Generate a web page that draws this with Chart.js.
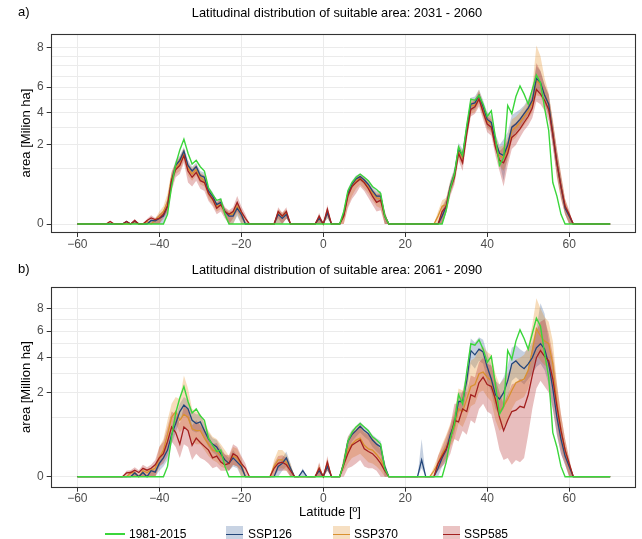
<!DOCTYPE html>
<html><head><meta charset="utf-8">
<script src="https://cdn.jsdelivr.net/npm/chart.js@4.4.1/dist/chart.umd.min.js"></script>
<style>
body{margin:0;background:#fff;width:642px;height:539px;overflow:hidden;position:relative;font-family:"Liberation Sans",Arial,Helvetica,sans-serif;}
canvas{position:absolute;left:0;}
.t{position:absolute;white-space:nowrap;color:#000;line-height:1;}
.c{transform:translate(-50%,-50%);}
.r{transform:translate(-50%,-50%) rotate(-90deg);}
.key{position:absolute;width:17px;height:17px;}
.key i{position:absolute;left:0;right:0;top:8px;height:1.4px;display:block;}
</style></head><body>
<canvas id="ca" width="642" height="258" style="top:0"></canvas>
<canvas id="cb" width="642" height="262" style="top:258px"></canvas>

<div class="t" style="left:18px;top:5px;font-size:13px">a)</div>
<div class="t c" style="left:337px;top:13px;font-size:12.8px">Latitudinal distribution of suitable area: 2031 - 2060</div>
<div class="t r" style="left:25px;top:133px;font-size:13px">area [Milion ha]</div>

<div class="t" style="left:18px;top:262px;font-size:13px">b)</div>
<div class="t c" style="left:337px;top:270px;font-size:12.8px">Latitudinal distribution of suitable area: 2061 - 2090</div>
<div class="t r" style="left:25px;top:387px;font-size:13px">area [Million ha]</div>

<div class="t c" style="left:330px;top:511px;font-size:13px">Latitude [º]</div>

<div style="position:absolute;left:105px;top:533px;width:20px;height:1.5px;background:#3bd63b"></div>
<div class="t" style="left:129px;top:528px;font-size:12px">1981-2015</div>
<div class="key" style="left:226px;top:526px;background:#c8d3e3"><i style="background:#23467a"></i></div>
<div class="t" style="left:248px;top:528px;font-size:12px">SSP126</div>
<div class="key" style="left:333px;top:526px;background:#f6dfc2"><i style="background:#d9912f"></i></div>
<div class="t" style="left:354px;top:528px;font-size:12px">SSP370</div>
<div class="key" style="left:443px;top:526px;background:#eac3c3"><i style="background:#a3201f"></i></div>
<div class="t" style="left:464px;top:528px;font-size:12px">SSP585</div>

<script>
// Latitude grid (degrees)
const lat = [
-60,-59,-58,-57,-56,-55,-54,-53,-52,-51,
-50,-49,-48,-47,-46,-45,-44,-43,-42,-41,
-40,-39,-38,-37,-36,-35,-34,-33,-32,-31,
-30,-29,-28,-27,-26,-25,-24,-23,-22,-21,
-20,-19,-18,-17,-16,-15,-14,-13,-12,-11,
-10,-9,-8,-7,-6,-5,-4,-3,-2,-1,
0,1,2,3,4,5,6,7,8,9,
10,11,12,13,14,15,16,17,18,19,
20,21,22,23,24,25,26,27,28,29,
30,31,32,33,34,35,36,37,38,39,
40,41,42,43,44,45,46,47,48,49,
50,51,52,53,54,55,56,57,58,59,
60,61,62,63,64,65,66,67,68,69,70];

// 1981-2015 (same in both panels), area [Million ha]
const hist = [
0,0,0,0,0,0,0,0,0,0,
0,0,0,0,0,0,0,0,0,0,
0,0,0.03,0.45,1.15,1.75,2.3,1.6,1.15,1.3,
1.05,0.9,0.42,0.28,0.18,0.2,0.03,0,0,0,
0,0,0,0,0,0,0,0,0,0,
0,0,0,0,0,0,0,0,0,0,
0,0,0,0,0,0.05,0.35,0.55,0.7,0.8,
0.7,0.6,0.45,0.38,0.3,0.02,0,0,0,0,
0,0,0,0,0,0,0,0,0,0,
0.06,0.4,0.8,1.9,1.5,3.1,5.0,4.9,5.3,4.6,
3.7,4.1,2.4,1.1,1.4,4.5,3.9,5.2,6.1,5.4,
4.6,5.8,7.1,6.4,4.3,2.8,0.55,0.25,0.03,0,
0,0,0,0,0,0,0,0,0,0,0];

// ---------- Panel a: 2031-2060 ----------
const a126 = [
0,0,0,0,0,0,0,0,0,0,
0,0,0.002,0,0.003,0,0,0,0.004,0.003,
0.01,0.02,0.1,0.6,1.1,1.3,1.7,1.1,0.9,1.05,
0.75,0.7,0.35,0.25,0.12,0.15,0.05,0.02,0.02,0.08,
0.03,0,0,0,0,0,0,0,0,0.03,
0.01,0.03,0,0,0,0,0,0,0,0.01,
0,0.04,0,0,0,0.03,0.3,0.5,0.65,0.72,
0.62,0.5,0.35,0.25,0.25,0.02,0,0,0,0,
0,0,0,0,0,0,0,0,0,0.02,
0.1,0.45,0.8,1.8,1.5,2.9,4.6,4.7,5.3,4.4,
3.5,3.3,2.2,1.6,1.5,2.0,3.0,3.2,3.5,3.9,
4.3,4.9,6.8,6.4,5.3,4.6,2.6,1.2,0.45,0.08,
0.02,0,0,0,0,0,0,0,0,0,0];
const a126lo = [
0,0,0,0,0,0,0,0,0,0,
0,0,0,0,0,0,0,0,0,0,
0,0,0.04,0.4,0.9,1.1,1.5,0.9,0.75,0.9,
0.6,0.55,0.25,0.17,0.07,0.1,0.02,0,0,0.02,
0,0,0,0,0,0,0,0,0,0,
0,0.01,0,0,0,0,0,0,0,0,
0,0.01,0,0,0,0.01,0.2,0.4,0.55,0.6,
0.5,0.4,0.25,0.15,0.15,0,0,0,0,0,
0,0,0,0,0,0,0,0,0,0,
0.04,0.3,0.6,1.5,1.2,2.5,4.1,4.2,4.8,3.9,
3.0,2.8,1.8,1.2,0.6,1.5,2.4,2.7,3.0,3.4,
3.8,4.3,5.6,5.5,4.6,3.8,2.0,0.8,0.25,0.03,
0,0,0,0,0,0,0,0,0,0,0];
const a126hi = [
0,0,0,0,0,0,0,0,0,0,
0,0,0.004,0,0.006,0,0,0,0.008,0.006,
0.03,0.05,0.2,0.8,1.3,1.5,1.9,1.3,1.05,1.2,
0.9,0.85,0.45,0.33,0.18,0.22,0.08,0.04,0.05,0.13,
0.06,0,0,0,0,0,0,0,0,0.06,
0.03,0.06,0,0,0,0,0,0,0,0.03,
0,0.07,0,0,0,0.06,0.4,0.6,0.75,0.82,
0.72,0.6,0.45,0.35,0.35,0.05,0,0,0,0,
0,0,0,0,0,0,0,0,0,0.05,
0.2,0.6,1.0,2.1,1.8,3.3,5.1,5.2,5.8,4.9,
4.0,3.8,2.6,2.0,2.3,2.7,3.8,4.0,4.2,4.5,
5.0,5.8,8.0,7.5,6.2,5.4,3.3,1.7,0.7,0.15,
0.04,0,0,0,0,0,0,0,0,0,0];

const a370 = [
0,0,0,0,0,0,0,0,0,0,
0,0,0,0,0.002,0,0,0.002,0,0.005,
0.02,0.05,0.15,0.7,1.0,1.2,1.6,1.0,0.8,0.95,
0.7,0.6,0.3,0.2,0.1,0.12,0.05,0.03,0.03,0.1,
0.04,0,0,0,0,0,0,0,0,0.04,
0.02,0.04,0,0,0,0,0,0,0,0.01,
0,0.05,0,0,0,0.02,0.28,0.45,0.6,0.68,
0.55,0.45,0.3,0.22,0.2,0.02,0,0,0,0,
0,0,0,0,0,0,0,0,0.02,0.1,
0.12,0.45,0.75,1.7,1.4,2.8,4.5,4.5,5.2,4.2,
3.4,3.2,2.1,1.5,1.4,1.8,2.8,3.0,3.3,3.7,
4.1,4.7,6.6,6.2,5.4,4.6,2.7,1.2,0.45,0.1,
0.02,0,0,0,0,0,0,0,0,0,0];
const a370lo = [
0,0,0,0,0,0,0,0,0,0,
0,0,0,0,0,0,0,0,0,0,
0,0.02,0.05,0.45,0.8,0.9,1.3,0.75,0.6,0.75,
0.5,0.45,0.2,0.12,0.05,0.07,0.02,0,0,0.03,
0,0,0,0,0,0,0,0,0,0,
0,0.01,0,0,0,0,0,0,0,0,
0,0.01,0,0,0,0,0.1,0.25,0.4,0.5,
0.4,0.3,0.18,0.1,0.08,0,0,0,0,0,
0,0,0,0,0,0,0,0,0,0,
0.05,0.3,0.55,1.4,1.1,2.4,3.9,4.0,4.6,3.7,
2.9,2.7,1.7,1.1,0.9,1.3,2.2,2.4,2.8,3.1,
3.5,4.0,5.3,5.2,4.6,3.8,2.0,0.7,0.2,0.03,
0,0,0,0,0,0,0,0,0,0,0];
const a370hi = [
0,0,0,0,0,0,0,0,0,0,
0,0,0,0,0.004,0,0,0.004,0,0.01,
0.05,0.1,0.3,0.9,1.2,1.45,1.85,1.2,1.0,1.15,
0.85,0.75,0.4,0.3,0.16,0.18,0.08,0.05,0.06,0.15,
0.07,0,0,0,0,0,0,0,0,0.07,
0.04,0.07,0,0,0,0,0,0,0,0.03,
0,0.09,0,0,0,0.06,0.38,0.55,0.7,0.78,
0.68,0.56,0.4,0.32,0.3,0.05,0,0,0,0,
0,0,0,0,0,0,0,0,0.05,0.18,
0.22,0.6,0.95,2.0,1.7,3.2,5.0,5.0,5.8,4.7,
3.9,3.7,2.5,1.9,2.0,2.4,3.5,3.7,4.0,4.4,
4.9,6.0,10.2,9.0,6.8,5.5,3.5,1.8,0.8,0.2,
0.05,0,0,0,0,0,0,0,0,0,0];

const a585 = [
0,0,0,0,0,0,0,0,0.002,0,
0,0,0.002,0,0.004,0,0,0.004,0.012,0.006,
0.01,0.03,0.1,0.6,0.95,1.1,1.5,0.9,0.7,0.85,
0.6,0.55,0.3,0.2,0.08,0.12,0.05,0.03,0.05,0.15,
0.05,0.01,0,0,0,0,0,0,0,0.05,
0.02,0.05,0,0,0,0,0,0,0,0.02,
0,0.07,0,0,0,0.02,0.25,0.45,0.55,0.65,
0.55,0.4,0.25,0.15,0.18,0.02,0,0,0,0,
0,0,0,0,0,0,0,0,0,0.05,
0.1,0.4,0.7,1.6,1.2,2.6,4.2,4.4,5.0,4.0,
3.2,3.0,1.9,1.3,1.2,1.6,2.4,2.6,2.9,3.3,
3.7,4.3,5.8,5.4,4.9,4.2,2.6,1.2,0.45,0.1,
0.03,0,0,0,0,0,0,0,0,0,0];
const a585lo = [
0,0,0,0,0,0,0,0,0,0,
0,0,0,0,0,0,0,0,0,0,
0,0.01,0.04,0.35,0.7,0.8,1.2,0.55,0.45,0.6,
0.4,0.35,0.17,0.1,0.03,0.05,0.01,0,0.01,0.05,
0.01,0,0,0,0,0,0,0,0,0.01,
0,0.01,0,0,0,0,0,0,0,0,
0,0.02,0,0,0,0,0.08,0.2,0.3,0.45,
0.35,0.22,0.12,0.05,0.06,0,0,0,0,0,
0,0,0,0,0,0,0,0,0,0,
0.04,0.25,0.5,1.3,0.9,2.2,3.7,3.9,4.4,3.5,
2.7,2.5,1.5,0.9,0.45,1.1,1.8,2.0,2.4,2.8,
3.1,3.6,4.8,4.6,4.1,3.4,1.9,0.7,0.2,0.03,
0,0,0,0,0,0,0,0,0,0,0];
const a585hi = [
0,0,0,0,0,0,0,0,0.004,0,
0,0,0.004,0,0.008,0,0,0.008,0.025,0.012,
0.03,0.06,0.2,0.85,1.2,1.4,1.8,1.15,0.95,1.1,
0.8,0.75,0.42,0.3,0.14,0.2,0.09,0.06,0.09,0.25,
0.1,0.03,0,0,0,0,0,0,0,0.09,
0.04,0.09,0,0,0,0,0,0,0,0.04,
0,0.12,0,0,0,0.05,0.35,0.55,0.68,0.76,
0.66,0.52,0.38,0.28,0.3,0.05,0,0,0,0,
0,0,0,0,0,0,0,0,0,0.1,
0.2,0.55,0.9,1.9,1.5,3.0,4.7,4.9,5.6,4.6,
3.7,3.5,2.3,1.7,1.9,2.2,3.1,3.3,3.6,4.0,
4.5,5.3,8.3,7.5,6.2,5.3,3.4,1.8,0.8,0.2,
0.06,0,0,0,0,0,0,0,0,0,0];

// ---------- Panel b: 2061-2090 ----------
const b126 = [
0,0,0,0,0,0,0,0,0,0,
0,0,0,0,0.004,0,0.005,0,0.01,0.006,
0.05,0.1,0.2,0.5,0.8,1.2,1.45,1.3,0.9,0.8,
0.85,0.6,0.4,0.3,0.25,0.15,0.08,0.05,0.1,0.06,
0.03,0,0,0,0,0,0,0,0,0.03,
0.05,0.1,0.02,0,0,0.01,0,0,0,0.01,
0,0.03,0,0,0,0.05,0.35,0.5,0.6,0.72,
0.6,0.52,0.38,0.3,0.25,0.03,0,0,0,0,
0,0,0,0,0.08,0,0,0,0.02,0.1,
0.2,0.5,0.8,1.6,1.6,2.6,4.5,4.2,4.6,4.4,
3.4,2.7,1.9,1.7,2.0,2.6,3.6,3.8,3.5,3.3,
3.6,4.0,4.7,5.0,4.6,3.6,2.2,1.0,0.4,0.12,
0.03,0,0,0,0,0,0,0,0,0,0];
const b126lo = [
0,0,0,0,0,0,0,0,0,0,
0,0,0,0,0,0,0,0,0,0,
0.01,0.03,0.08,0.3,0.55,0.9,1.1,0.95,0.6,0.55,
0.6,0.4,0.25,0.17,0.13,0.07,0.03,0.01,0.03,0.02,
0,0,0,0,0,0,0,0,0,0,
0.01,0.03,0,0,0,0,0,0,0,0,
0,0.01,0,0,0,0.02,0.2,0.35,0.45,0.55,
0.45,0.38,0.25,0.18,0.13,0,0,0,0,0,
0,0,0,0,0.02,0,0,0,0,0.03,
0.08,0.3,0.55,1.2,1.2,2.0,3.6,3.3,3.8,3.6,
2.6,2.0,1.3,1.1,1.3,1.8,2.6,2.8,2.6,2.4,
2.7,3.0,3.4,3.6,3.2,2.4,1.3,0.5,0.15,0.04,
0,0,0,0,0,0,0,0,0,0,0];
const b126hi = [
0,0,0,0,0,0,0,0,0,0,
0,0,0,0,0.01,0,0.01,0,0.02,0.012,
0.1,0.2,0.35,0.7,1.05,1.5,1.8,1.65,1.2,1.1,
1.1,0.8,0.55,0.42,0.38,0.25,0.14,0.1,0.2,0.12,
0.06,0,0,0,0,0,0,0,0,0.06,
0.1,0.18,0.05,0,0,0.02,0,0,0,0.02,
0,0.06,0,0,0,0.09,0.45,0.62,0.72,0.85,
0.72,0.64,0.5,0.42,0.36,0.06,0,0,0,0,
0,0,0,0,0.4,0,0,0,0.05,0.18,
0.32,0.7,1.1,2.0,2.0,3.2,5.4,5.1,5.5,5.3,
4.3,3.5,2.6,2.4,2.8,3.5,4.7,4.9,4.6,4.4,
4.6,5.1,6.2,8.5,7.5,5.2,3.3,1.7,0.75,0.25,
0.06,0,0,0,0,0,0,0,0,0,0];

const b370 = [
0,0,0,0,0,0,0,0,0,0,
0,0,0,0.004,0.005,0,0.01,0.005,0.012,0.02,
0.1,0.2,0.5,1.0,1.2,0.9,1.1,1.0,0.65,0.6,
0.6,0.42,0.3,0.2,0.18,0.12,0.08,0.05,0.12,0.1,
0.04,0,0,0,0,0,0,0,0.03,0.08,
0.08,0.06,0.02,0,0,0,0,0,0,0.02,
0,0.05,0,0,0,0.05,0.2,0.3,0.38,0.42,
0.28,0.22,0.2,0.14,0.08,0.02,0,0,0,0,
0,0,0,0,0,0,0,0.01,0.05,0.15,
0.25,0.45,0.7,1.3,1.2,1.7,2.3,2.4,3.0,3.1,
2.8,2.6,1.6,1.2,1.4,1.7,2.1,2.5,2.6,2.7,
3.2,4.5,6.2,5.6,5.2,5.0,3.6,1.5,0.6,0.2,
0.04,0,0,0,0,0,0,0,0,0,0];
const b370lo = [
0,0,0,0,0,0,0,0,0,0,
0,0,0,0,0,0,0,0,0,0,
0.03,0.08,0.25,0.6,0.8,0.55,0.7,0.6,0.35,0.3,
0.3,0.2,0.12,0.08,0.06,0.03,0.02,0.01,0.04,0.03,
0,0,0,0,0,0,0,0,0,0.02,
0.02,0.01,0,0,0,0,0,0,0,0,
0,0.01,0,0,0,0.01,0.05,0.1,0.12,0.15,
0.1,0.06,0.05,0.03,0.01,0,0,0,0,0,
0,0,0,0,0,0,0,0,0.01,0.05,
0.1,0.25,0.4,0.8,0.7,1.0,1.4,1.5,2.0,2.1,
1.8,1.6,0.9,0.6,0.7,0.9,1.3,1.6,1.7,1.8,
2.2,3.2,4.2,3.8,3.5,3.4,2.2,0.8,0.25,0.06,
0,0,0,0,0,0,0,0,0,0,0];
const b370hi = [
0,0,0,0,0,0,0,0,0,0,
0,0,0,0.01,0.01,0,0.02,0.01,0.025,0.04,
0.25,0.4,0.9,1.5,1.8,1.7,2.9,2.2,1.3,1.2,
1.1,0.85,0.6,0.45,0.4,0.3,0.2,0.12,0.25,0.22,
0.1,0,0,0,0,0,0,0,0.08,0.2,
0.2,0.14,0.05,0,0,0,0,0,0,0.05,
0,0.1,0,0,0,0.12,0.45,0.6,0.72,0.8,
0.62,0.52,0.45,0.36,0.25,0.06,0,0,0,0,
0,0,0,0,0,0,0,0.03,0.12,0.3,
0.5,0.8,1.2,2.2,2.1,2.9,3.8,4.0,4.6,4.8,
4.4,4.2,3.0,2.4,2.7,3.0,3.5,3.9,4.0,4.2,
4.8,6.5,9.0,8.0,7.2,6.8,5.2,2.5,1.1,0.4,
0.08,0,0,0,0,0,0,0,0,0,0];

const b585 = [
0,0,0,0,0,0,0,0,0,0,
0,0,0.004,0.005,0.012,0.005,0.02,0.012,0.02,0.04,
0.1,0.15,0.35,0.7,0.55,0.3,0.7,0.6,0.28,0.42,
0.33,0.26,0.2,0.1,0.12,0.06,0.04,0.05,0.15,0.12,
0.05,0.02,0,0,0,0,0,0,0.02,0.05,
0.06,0.04,0.01,0,0,0,0,0,0,0.02,
0,0.06,0,0,0,0.04,0.15,0.28,0.33,0.38,
0.22,0.18,0.15,0.1,0.05,0.01,0,0,0,0,
0,0,0,0,0,0,0,0,0.05,0.12,
0.22,0.4,0.9,0.85,1.3,1.2,1.9,1.8,2.5,2.8,
2.4,2.3,1.7,1.0,0.6,0.9,1.2,1.25,1.4,1.35,
1.9,2.9,4.0,4.5,4.1,3.8,2.7,1.4,0.6,0.2,
0.05,0,0,0,0,0,0,0,0,0,0];
const b585lo = [
0,0,0,0,0,0,0,0,0,0,
0,0,0,0,0,0,0,0,0,0,
0.03,0.05,0.12,0.35,0.25,0.1,0.3,0.25,0.08,0.15,
0.1,0.08,0.05,0.02,0.03,0.01,0.01,0.01,0.04,0.03,
0.01,0,0,0,0,0,0,0,0,0.01,
0.01,0.01,0,0,0,0,0,0,0,0,
0,0.01,0,0,0,0,0.02,0.03,0.05,0.08,
0.03,0.02,0.02,0.01,0,0,0,0,0,0,
0,0,0,0,0,0,0,0,0.01,0.03,
0.06,0.15,0.4,0.35,0.6,0.5,0.9,0.8,1.3,1.5,
1.2,1.1,0.6,0.2,0.08,0.1,0.04,0.08,0.06,0.1,
0.5,1.3,2.2,2.6,2.3,2.0,1.3,0.5,0.15,0.04,
0,0,0,0,0,0,0,0,0,0,0];
const b585hi = [
0,0,0,0,0,0,0,0,0,0,
0,0,0.01,0.012,0.025,0.012,0.04,0.025,0.04,0.08,
0.25,0.35,0.7,1.2,1.1,0.8,1.4,1.3,0.75,0.9,
0.75,0.6,0.48,0.3,0.32,0.2,0.14,0.13,0.3,0.25,
0.12,0.05,0,0,0,0,0,0,0.05,0.12,
0.13,0.1,0.03,0,0,0,0,0,0,0.06,
0,0.12,0,0,0,0.1,0.4,0.55,0.62,0.7,
0.55,0.5,0.42,0.32,0.2,0.04,0,0,0,0,
0,0,0,0,0,0,0,0,0.12,0.25,
0.45,0.75,1.5,1.5,2.1,2.0,2.9,2.8,3.7,4.0,
3.6,3.5,2.7,2.0,1.5,1.9,2.4,2.5,2.7,2.6,
3.3,4.7,6.0,6.8,7.0,5.8,4.2,2.4,1.1,0.4,
0.1,0,0,0,0,0,0,0,0,0,0];

// Axis ticks
const xTicks = [-60,-40,-20,0,20,40,60];
const aGrid = [0,1,2,3,4,5,6,7,8,9,10];
const aTickVals = [0,2,4,6,10];
const aTickText = ['0','2','4','6','8'];
const bGrid = [0,1,2,3,4,5,6,7,8];
const bTickVals = [0,2,4,6,8];
const bTickText = ['0','2','4','6','8'];

// sanity check
[hist,a126,a126lo,a126hi,a370,a370lo,a370hi,a585,a585lo,a585hi,b126,b126lo,b126hi,b370,b370lo,b370hi,b585,b585lo,b585hi].forEach((s,i)=>{ if(s.length!==lat.length) throw new Error('len '+i+' '+s.length); });

const COL = {
  hist:'#3bd63b',
  l126:'#23467a', f126:'rgba(40,80,140,0.27)',
  l370:'#d9912f', f370:'rgba(230,140,30,0.30)',
  l585:'#a3201f', f585:'rgba(180,40,40,0.30)'
};
const FONT = '"Liberation Sans", Arial, Helvetica, sans-serif';

const tr = v => Math.sqrt(v); // square-root axis transform
const pts = arr => arr.map((v,i)=>({x:lat[i], y:tr(v)}));

const frame = {
  id:'frame',
  afterDraw(c){
    const a=c.chartArea, g=c.ctx;
    g.save(); g.strokeStyle='#333'; g.lineWidth=1.1;
    g.strokeRect(Math.round(a.left)+0.5, Math.round(a.top)+0.5, Math.round(a.right-a.left)-1, Math.round(a.bottom-a.top)-1);
    g.restore();
  }
};

function band(arr, color, fill, order){
  return {data:pts(arr), borderWidth:0, borderColor:'rgba(0,0,0,0)', backgroundColor:color, pointRadius:0, fill:fill, order:order, tension:0};
}
function line(arr, color, order, w){
  return {data:pts(arr), borderWidth:w||1.3, borderColor:color, pointRadius:0, fill:false, order:order, tension:0};
}

function makeChart(id, s, yMin, yMax, grid, tv, tt, padTop, padBottom){
  const isLab = v => tv.some(k=>Math.abs(tr(k)-v)<1e-9);
  new Chart(document.getElementById(id), {
    type:'line',
    data:{datasets:[
      band(s.lo126, COL.f126, false, 30),
      band(s.hi126, COL.f126, '-1', 29),
      band(s.lo370, COL.f370, false, 28),
      band(s.hi370, COL.f370, '-1', 27),
      band(s.lo585, COL.f585, false, 26),
      band(s.hi585, COL.f585, '-1', 25),
      line(s.l370, COL.l370, 5),
      line(s.l126, COL.l126, 4),
      line(s.l585, COL.l585, 3),
      line(hist, COL.hist, 1, 1.4)
    ]},
    options:{
      responsive:false, animation:false, devicePixelRatio:1,
      layout:{padding:{left:0, right:6, top:padTop, bottom:padBottom}},
      plugins:{legend:{display:false}, tooltip:{enabled:false}},
      scales:{
        x:{type:'linear', min:-66.5, max:76.3,
          afterBuildTicks: sc => { sc.ticks = xTicks.map(v=>({value:v})); },
          afterFit: sc => { sc.height = 20; },
          grid:{color:'#ebebeb', lineWidth:1, tickLength:4, tickColor:'#333'},
          border:{display:false},
          ticks:{autoSkip:false, maxRotation:0, padding:0, color:'#4d4d4d', font:{family:FONT, size:12},
            callback: v => v<0 ? '\u2212'+Math.abs(v) : String(v)}
        },
        y:{type:'linear', min:yMin, max:yMax,
          afterBuildTicks: sc => { sc.ticks = grid.map(k=>({value:tr(k)})); },
          afterFit: sc => { sc.width = 50.7; },
          grid:{color:'#ebebeb', lineWidth:1, tickLength:4,
            tickColor: ctx => (ctx.tick && isLab(ctx.tick.value)) ? '#333' : 'rgba(0,0,0,0)'},
          border:{display:false},
          ticks:{autoSkip:false, padding:3, color:'#4d4d4d', font:{family:FONT, size:12},
            callback: v => { const i = tv.findIndex(k=>Math.abs(tr(k)-v)<1e-9); return i>=0 ? tt[i] : ''; }}
        }
      }
    },
    plugins:[frame]
  });
}

makeChart('ca', {l126:a126, lo126:a126lo, hi126:a126hi, l370:a370, lo370:a370lo, hi370:a370hi, l585:a585, lo585:a585lo, hi585:a585hi},
  -0.161, 3.40, aGrid, aTickVals, aTickText, 34, 5);
makeChart('cb', {l126:b126, lo126:b126lo, hi126:b126hi, l370:b370, lo370:b370lo, hi370:b370hi, l585:b585, lo585:b585lo, hi585:b585hi},
  -0.185, 3.19, bGrid, bTickVals, bTickText, 29, 12.3);
</script>
</body></html>
